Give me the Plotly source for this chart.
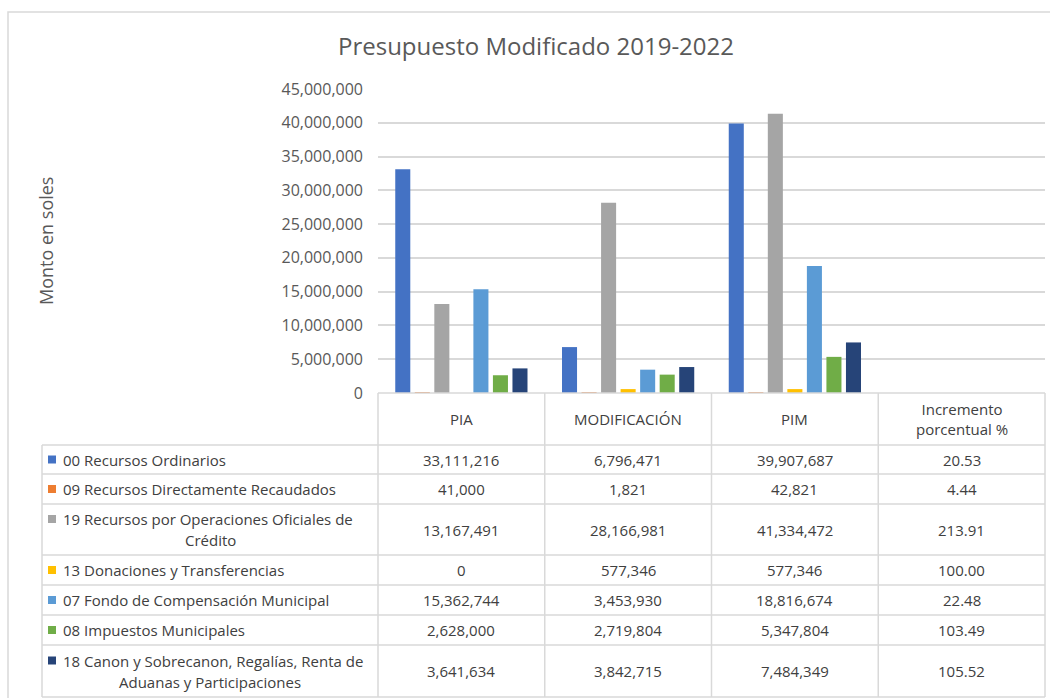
import textwrap
import plotly.graph_objects as go

categories = ["PIA", "MODIFICACIÓN", "PIM", "Incremento porcentual %"]
series_names = [
    "00 Recursos Ordinarios",
    "09 Recursos Directamente Recaudados",
    "19 Recursos por Operaciones Oficiales de Crédito",
    "13 Donaciones y Transferencias",
    "07 Fondo de Compensación Municipal",
    "08 Impuestos Municipales",
    "18 Canon y Sobrecanon, Regalías, Renta de Aduanas y Participaciones",
]
pia = [33111216, 41000, 13167491, 0, 15362744, 2628000, 3641634]
modificacion = [6796471, 1821, 28166981, 577346, 3453930, 2719804, 3842715]
pim = [39907687, 42821, 41334472, 577346, 18816674, 5347804, 7484349]
incremento = [20.53, 4.44, 213.91, 100.00, 22.48, 103.49, 105.52]
colors = ["#4472C4", "#ED7D31", "#A5A5A5", "#FFC000", "#5B9BD5", "#70AD47", "#264478"]

W, H = 1050, 698
FONT = "Open Sans"
GRID = "#d9d9d9"
TXT = "#404040"
TS = 15


def px(x):
    return x / W


def py(y):
    return 1 - y / H


def label(x, y, text, xref="paper", xanchor="center", size=TS, color=TXT, **kw):
    return dict(x=x, xref=xref, y=py(y), yref="paper", text=text, showarrow=False,
                xanchor=xanchor, yanchor="middle", font=dict(size=size, color=color, family=FONT), **kw)


fig = go.Figure()
for i, name in enumerate(series_names):
    vals = [pia[i], modificacion[i], pim[i], incremento[i]]
    fig.add_trace(go.Bar(x=categories, y=vals, name=name, marker_color=colors[i],
                         marker_line_width=0, showlegend=False))

# table geometry (pixels)
head_top, head_bot = 393, 445
rows = [445, 474, 504, 555, 585, 615, 645, 697]
line = dict(color=GRID, width=1.5)

shapes = []
# outer chart border
shapes.append(dict(type="rect", xref="paper", yref="paper", x0=px(8), x1=px(1060), y0=py(710), y1=py(12),
                   line=line))
shapes.append(dict(type="line", xref="paper", yref="paper", x0=px(378), x1=px(1045),
                   y0=py(head_top), y1=py(head_top), line=line))
for r in rows:
    shapes.append(dict(type="line", xref="paper", yref="paper", x0=px(42), x1=px(1045),
                       y0=py(r), y1=py(r), line=line))
shapes.append(dict(type="line", xref="paper", yref="paper", x0=px(42), x1=px(42),
                   y0=py(rows[0]), y1=py(rows[-1]), line=line))
for k in range(len(categories) + 1):
    xx = 378 + k * (1045 - 378) / len(categories)
    shapes.append(dict(type="line", xref="paper", yref="paper", x0=px(xx), x1=px(xx),
                       y0=py(head_top), y1=py(rows[-1]), line=line))

annotations = []
# header labels
for c in categories:
    annotations.append(label(c, (head_top + head_bot) / 2, c.replace("Incremento ", "Incremento<br>"),
                             xref="x"))

# table rows
for i, name in enumerate(series_names):
    top, bot = rows[i], rows[i + 1]
    mid = (top + bot) / 2
    lines = textwrap.wrap(name, width=41)
    first_y = mid if len(lines) == 1 else mid - 10.5
    annotations.append(label(px(61), first_y, lines[0], xanchor="left"))
    if len(lines) > 1:
        annotations.append(label(px(210), mid + 10.5, lines[1]))
    shapes.append(dict(type="rect", xref="paper", yref="paper", x0=px(48), x1=px(56),
                       y0=py(first_y + 4), y1=py(first_y - 4), fillcolor=colors[i], line=dict(width=0)))
    cells = [f"{pia[i]:,}", f"{modificacion[i]:,}", f"{pim[i]:,}", f"{incremento[i]:.2f}"]
    for c, t in zip(categories, cells):
        annotations.append(label(c, mid, t, xref="x"))

# axis title
annotations.append(label(px(46), 241, "Monto en soles", size=18, color="#595959", textangle=-90))

fig.update_layout(
    width=W, height=H,
    margin=dict(l=0, r=0, t=0, b=0, pad=0, autoexpand=False),
    paper_bgcolor="white", plot_bgcolor="white",
    title=dict(text="Presupuesto Modificado 2019-2022", x=px(536), xanchor="center",
               y=py(47), yanchor="middle", font=dict(size=24, color="#595959", family=FONT)),
    barmode="group", bargap=0.18, bargroupgap=0.23,
    xaxis=dict(domain=[px(378), px(1045)], showticklabels=False, showgrid=False,
               zeroline=False, showline=False, ticks="", automargin=False),
    yaxis=dict(domain=[py(393), py(89)], range=[0, 45000000], dtick=5000000, tickformat=",",
               showgrid=True, gridcolor=GRID, gridwidth=1.5, zeroline=False, showline=False,
               ticks="", ticklabelstandoff=14, automargin=False,
               tickfont=dict(size=16, color="#595959", family=FONT)),
    shapes=shapes,
    annotations=annotations,
    font=dict(family=FONT),
)

fig.write_html("out.html", config={"displayModeBar": False},
               post_script="document.body.style.margin='0';")
